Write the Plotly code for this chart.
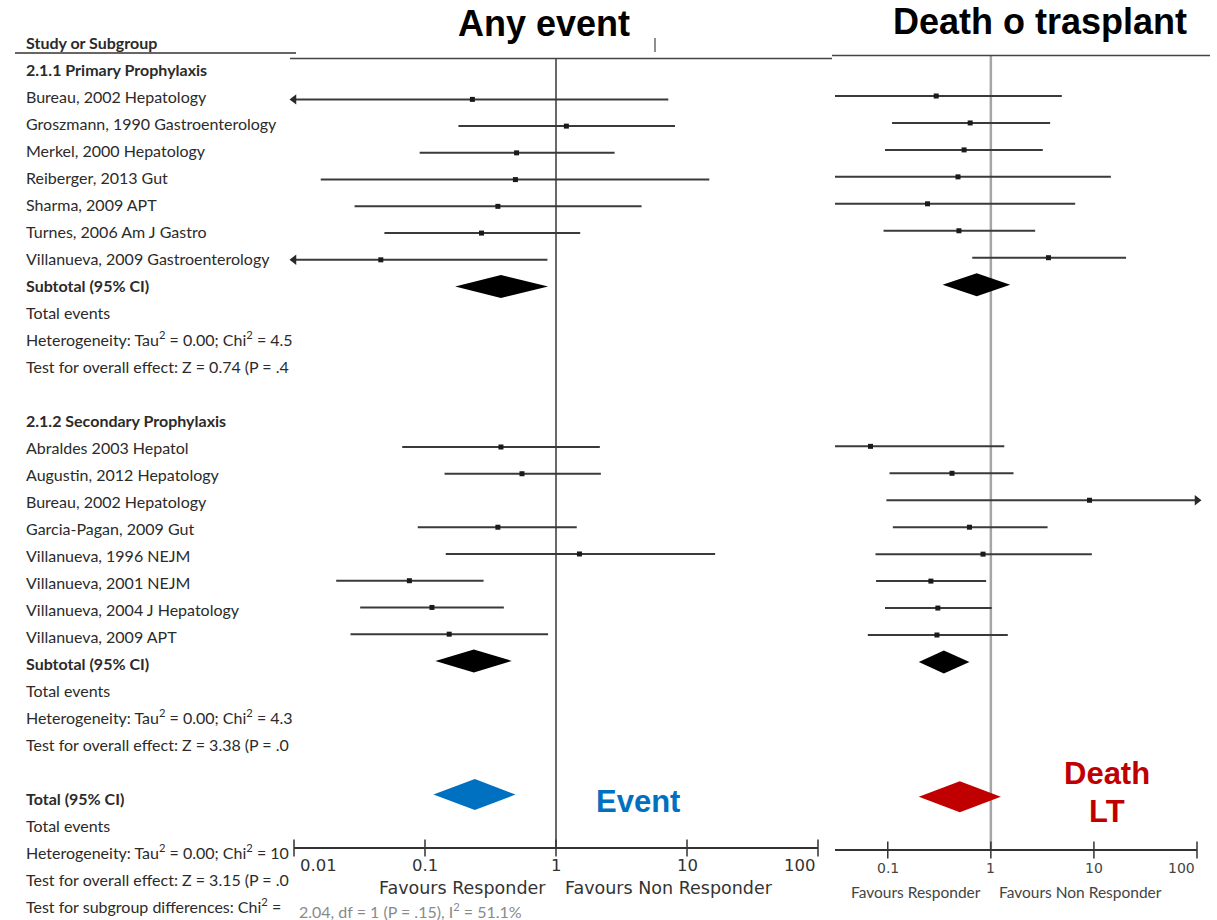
import math
import plotly.graph_objects as go

W, H = 1217, 920

# ---------------- study labels ----------------
primary_studies = [
    "Bureau, 2002 Hepatology",
    "Groszmann, 1990 Gastroenterology",
    "Merkel, 2000 Hepatology",
    "Reiberger, 2013 Gut",
    "Sharma, 2009 APT",
    "Turnes, 2006 Am J Gastro",
    "Villanueva, 2009 Gastroenterology",
]
secondary_studies = [
    "Abraldes 2003 Hepatol",
    "Augustin, 2012 Hepatology",
    "Bureau, 2002 Hepatology",
    "Garcia-Pagan, 2009 Gut",
    "Villanueva, 1996 NEJM",
    "Villanueva, 2001 NEJM",
    "Villanueva, 2004 J Hepatology",
    "Villanueva, 2009 APT",
]

# ---------------- Any event: odds ratio with 95% CI ----------------
event_primary_or = [0.23, 1.2, 0.50, 0.49, 0.36, 0.27, 0.046]
event_primary_lo = [0.005, 0.18, 0.091, 0.016, 0.029, 0.049, 0.004]
event_primary_hi = [7.2, 8.1, 2.8, 14.8, 4.5, 1.53, 0.86]
event_primary_sub = [0.38, 0.17, 0.87]          # estimate, lower, upper

event_secondary_or = [0.38, 0.55, None, 0.36, 1.51, 0.076, 0.113, 0.153]
event_secondary_lo = [0.067, 0.141, None, 0.088, 0.144, 0.021, 0.032, 0.027]
event_secondary_hi = [2.16, 2.2, None, 1.44, 16.4, 0.28, 0.40, 0.87]
event_secondary_sub = [0.236, 0.12, 0.46]

event_total = [0.24, 0.116, 0.49]

# ---------------- Death or transplant: odds ratio with 95% CI ----------------
death_primary_or = [0.295, 0.63, 0.55, 0.48, 0.243, 0.49, 3.62]
death_primary_lo = [0.02, 0.110, 0.094, 0.015, 0.02, 0.091, 0.66]
death_primary_hi = [4.88, 3.76, 3.19, 14.6, 6.58, 2.69, 20.5]
death_primary_sub = [0.73, 0.34, 1.54]

death_secondary_or = [0.068, 0.42, 9.06, 0.62, 0.84, 0.262, 0.306, 0.30]
death_secondary_lo = [0.003, 0.104, 0.097, 0.112, 0.076, 0.077, 0.094, 0.064]
death_secondary_hi = [1.35, 1.66, 250.0, 3.55, 9.55, 0.90, 1.02, 1.46]
death_secondary_sub = [0.35, 0.20, 0.62]

death_total = [0.50, 0.20, 1.25]

# ---------------- axis ticks ----------------
tick_values = [0.01, 0.1, 1, 10, 100]
tick_labels = ["0.01", "0.1", "1", "10", "100"]

# ---------------- text column rows ----------------
het_primary = "Heterogeneity: Tau<sup>2</sup> = 0.00; Chi<sup>2</sup> = 4.5"
test_primary = "Test for overall effect: Z = 0.74 (P = .4"
het_secondary = "Heterogeneity: Tau<sup>2</sup> = 0.00; Chi<sup>2</sup> = 4.3"
test_secondary = "Test for overall effect: Z = 3.38 (P = .0"
het_total = "Heterogeneity: Tau<sup>2</sup> = 0.00; Chi<sup>2</sup> = 10"
test_total = "Test for overall effect: Z = 3.15 (P = .0"
subgroup_prefix = "Test for subgroup differences: Chi<sup>2</sup> = "
subgroup_rest = "2.04, df = 1 (P = .15), I<sup>2</sup> = 51.1%"

rows = (["<b>Study or Subgroup</b>", "<b>2.1.1 Primary Prophylaxis</b>"]
        + primary_studies
        + ["<b>Subtotal (95% CI)</b>", "Total events", het_primary, test_primary, "",
           "<b>2.1.2 Secondary Prophylaxis</b>"]
        + secondary_studies
        + ["<b>Subtotal (95% CI)</b>", "Total events", het_secondary, test_secondary, "",
           "<b>Total (95% CI)</b>", "Total events", het_total, test_total, subgroup_prefix])

row_primary0 = 2
row_primary_sub = row_primary0 + len(primary_studies)
row_secondary0 = rows.index("<b>2.1.2 Secondary Prophylaxis</b>") + 1
row_secondary_sub = row_secondary0 + len(secondary_studies)
row_total = rows.index("<b>Total (95% CI)</b>")

# vertical placement: pixel = top + step * row
TXT_TOP, TXT_STEP = 45.0, 27.0
L_TOP, L_STEP = 45.9, 26.74
R_TOP, R_STEP = 42.1, 26.95


def y_range(top, step):
    return [(H - top) / step, (0 - top) / step]


def to_row(px, top, step):
    return (px - top) / step


def py(px):
    return 1 - px / H


def px_x(px):
    return px / W


INK = "#2b2b2b"
TXT_FONT = "Lato, Open Sans, sans-serif"
AXIS_FONT = "DejaVu Sans, Verdana, sans-serif"
TITLE_FONT = "Liberation Sans, Arial, sans-serif"

fig = go.Figure()


def add_panel(xa, ya, top, step, studies_or, studies_lo, studies_hi, start_row,
              sub, sub_row, total, total_color, ref_color, ref_width, ref_top, axis_px,
              xmin_log, xmax_log):
    xs, ys = [], []
    pts_x, pts_y = [], []
    arrows_l, arrows_r = [], []
    for block_or, block_lo, block_hi, r0 in zip(studies_or, studies_lo, studies_hi, start_row):
        for i, (o, lo, hi) in enumerate(zip(block_or, block_lo, block_hi)):
            if o is None:
                continue
            r = r0 + i
            xs += [lo, hi, None]
            ys += [r, r, None]
            pts_x.append(o)
            pts_y.append(r)
            if lo < 0.01:
                arrows_l.append(r)
            if hi > 100:
                arrows_r.append(r)
    # reference line at OR = 1
    fig.add_trace(go.Scatter(
        x=[1, 1], y=[to_row(ref_top, top, step), to_row(axis_px, top, step)],
        mode="lines", line=dict(color=ref_color, width=ref_width),
        xaxis=xa, yaxis=ya, hoverinfo="skip", showlegend=False))
    # confidence intervals
    fig.add_trace(go.Scatter(
        x=xs, y=ys, mode="lines", line=dict(color="#3a3a3a", width=2),
        xaxis=xa, yaxis=ya, hoverinfo="skip", showlegend=False))
    # point estimates
    fig.add_trace(go.Scatter(
        x=pts_x, y=pts_y, mode="markers",
        marker=dict(symbol="square", size=5, color="#1a1a1a"),
        xaxis=xa, yaxis=ya, hoverinfo="skip", showlegend=False))
    # arrows where the interval runs past the scale
    if arrows_l:
        fig.add_trace(go.Scatter(
            x=[0.01] * len(arrows_l), y=arrows_l, mode="markers", cliponaxis=False,
            marker=dict(symbol="triangle-left", size=9, color="#2a2a2a"),
            xaxis=xa, yaxis=ya, hoverinfo="skip", showlegend=False))
    if arrows_r:
        fig.add_trace(go.Scatter(
            x=[100] * len(arrows_r), y=arrows_r, mode="markers", cliponaxis=False,
            marker=dict(symbol="triangle-right", size=9, color="#2a2a2a"),
            xaxis=xa, yaxis=ya, hoverinfo="skip", showlegend=False))
    # subtotal diamonds
    for (est, lo, hi), r in zip(sub, sub_row):
        h = 11.5 / step
        fig.add_trace(go.Scatter(
            x=[lo, est, hi, est, lo], y=[r, r - h, r, r + h, r], mode="lines",
            fill="toself", fillcolor="#000000", line=dict(width=0, color="#000000"),
            xaxis=xa, yaxis=ya, hoverinfo="skip", showlegend=False))
    # overall diamond
    est, lo, hi = total
    h = 15.5 / step
    r = row_total
    fig.add_trace(go.Scatter(
        x=[lo, est, hi, est, lo], y=[r, r - h, r, r + h, r], mode="lines",
        fill="toself", fillcolor=total_color, line=dict(width=0, color=total_color),
        xaxis=xa, yaxis=ya, hoverinfo="skip", showlegend=False))
    # tick marks crossing the axis line
    tv = [t for t in tick_values if xmin_log - 1e-9 <= math.log10(t) <= xmax_log + 1e-9]
    fig.add_trace(go.Scatter(
        x=tv, y=[to_row(axis_px, top, step)] * len(tv), mode="markers", cliponaxis=False,
        marker=dict(symbol="line-ns", size=12, line=dict(width=1.5, color="#333333")),
        xaxis=xa, yaxis=ya, hoverinfo="skip", showlegend=False))


# left panel: any event
L_X0, L_X1 = 294, 818
L_AXIS = 848
add_panel("x", "y", L_TOP, L_STEP,
          [event_primary_or, event_secondary_or],
          [event_primary_lo, event_secondary_lo],
          [event_primary_hi, event_secondary_hi],
          [row_primary0, row_secondary0],
          [event_primary_sub, event_secondary_sub], [row_primary_sub, row_secondary_sub],
          event_total, "#0070C0", "#444444", 1.6, 58, L_AXIS, -2, 2)

# right panel: death or transplant
R_X0, R_X1 = 835, 1197
R_LOGMIN = 2 - 3.512
R_AXIS = 850
add_panel("x2", "y2", R_TOP, R_STEP,
          [death_primary_or, death_secondary_or],
          [death_primary_lo, death_secondary_lo],
          [death_primary_hi, death_secondary_hi],
          [row_primary0, row_secondary0],
          [death_primary_sub, death_secondary_sub], [row_primary_sub, row_secondary_sub],
          death_total, "#C00000", "#a6a6a6", 2.5, 55, R_AXIS, R_LOGMIN, 2)

# study / subgroup text column (clipped at the plot edge)
fig.add_trace(go.Scatter(
    x=[26] * len(rows), y=list(range(len(rows))), text=rows, mode="text",
    textposition="middle right", cliponaxis=True,
    textfont=dict(family=TXT_FONT, size=16, color=INK),
    xaxis="x3", yaxis="y3", hoverinfo="skip", showlegend=False))

fig.update_layout(
    width=W, height=H, margin=dict(l=0, r=0, t=0, b=0),
    paper_bgcolor="white", plot_bgcolor="rgba(0,0,0,0)",
    xaxis=dict(type="log", domain=[px_x(L_X0), px_x(L_X1)], range=[-2, 2],
               anchor="free", position=py(L_AXIS), showline=True, linecolor="#333333",
               linewidth=1.5, ticks="", showticklabels=False, showgrid=False, zeroline=False),
    yaxis=dict(domain=[0, 1], range=y_range(L_TOP, L_STEP), visible=False),
    xaxis2=dict(type="log", domain=[px_x(R_X0), px_x(R_X1)], range=[R_LOGMIN, 2],
                anchor="free", position=py(R_AXIS), showline=True, linecolor="#333333",
                linewidth=1.5, ticks="", showticklabels=False, showgrid=False, zeroline=False),
    yaxis2=dict(domain=[0, 1], range=y_range(R_TOP, R_STEP), visible=False, anchor="x2"),
    xaxis3=dict(domain=[0, px_x(296)], range=[0, 296], visible=False),
    yaxis3=dict(domain=[0, 1], range=y_range(TXT_TOP, TXT_STEP), visible=False, anchor="x3"),
)

shapes = [
    # header rules
    dict(type="line", xref="paper", yref="paper", x0=px_x(15), x1=px_x(296),
         y0=py(53), y1=py(53), line=dict(color="#333333", width=1.5)),
    dict(type="line", xref="paper", yref="paper", x0=px_x(290), x1=px_x(832),
         y0=py(58.5), y1=py(58.5), line=dict(color="#444444", width=1.5)),
    dict(type="line", xref="paper", yref="paper", x0=px_x(832), x1=px_x(1210),
         y0=py(55.5), y1=py(55.5), line=dict(color="#444444", width=1.5)),
    dict(type="line", xref="paper", yref="paper", x0=px_x(655), x1=px_x(655),
         y0=py(38), y1=py(52), line=dict(color="#444444", width=1.2)),
]
fig.update_layout(shapes=shapes)


def label(text, x, y, size, color, family=TXT_FONT, xanchor="center", xref="paper", xshift=0):
    return dict(text=text, x=x, y=py(y), xref=xref, yref="paper", xanchor=xanchor,
                yanchor="middle", xshift=xshift, showarrow=False,
                font=dict(family=family, size=size, color=color))


ann = []
# panel titles
ann.append(label("<b>Any event</b>", px_x(544), 23, 36, "#000000", TITLE_FONT))
ann.append(label("<b>Death o trasplant</b>", px_x(1040), 21, 36, "#000000", TITLE_FONT))
# outcome labels
ann.append(label("<b>Event</b>", px_x(638), 801, 31, "#0070C0", TITLE_FONT))
ann.append(label("<b>Death</b>", px_x(1107), 773, 31, "#C00000", TITLE_FONT))
ann.append(label("<b>LT</b>", px_x(1107), 811, 31, "#C00000", TITLE_FONT))

# tick labels
for v, lab in zip(tick_values, tick_labels):
    anchor = "left" if v == tick_values[0] else ("right" if v == tick_values[-1] else "center")
    shift = 4 if anchor == "left" else 0
    ann.append(label(lab, math.log10(v), 865, 16.5, "#333333", AXIS_FONT, xanchor=anchor,
                     xref="x", xshift=shift))
    if math.log10(v) >= R_LOGMIN:
        ann.append(label(lab, math.log10(v), 868, 14, "#444444", AXIS_FONT,
                         xanchor="right" if v == tick_values[-1] else "center", xref="x2"))

# favours labels
ann.append(label("Favours Responder", px_x(548), 888, 17.5, "#333333", AXIS_FONT,
                 xanchor="right"))
ann.append(label("Favours Non Responder", px_x(563), 888, 17.5, "#333333", AXIS_FONT,
                 xanchor="left"))
ann.append(label("Favours Responder", px_x(983), 892, 15.5, "#444444", xanchor="right"))
ann.append(label("Favours Non Responder", px_x(997), 892, 15.5, "#444444", xanchor="left"))

# tail of the subgroup-difference line
ann.append(label(subgroup_rest, px_x(297), 910, 16, "#8a8a8a", xanchor="left"))

fig.update_layout(annotations=ann)

fig.write_html("out.html")
